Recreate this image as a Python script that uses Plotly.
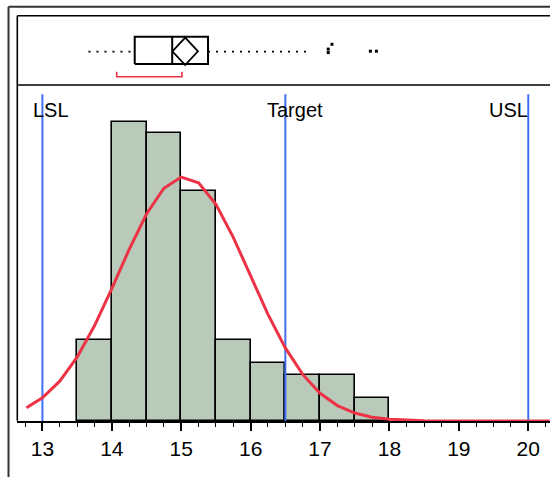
import plotly.graph_objects as go

# ---------------- data ----------------
bin_centers = [13.75, 14.25, 14.75, 15.25, 15.75, 16.25, 16.75, 17.25, 17.75]
bin_counts = [7, 26, 25, 20, 7, 5, 4, 4, 2]
bin_width = 0.5

curve_x = [12.77, 13.0, 13.25, 13.5, 13.75, 14.0, 14.25, 14.5, 14.75, 15.0,
           15.25, 15.5, 15.75, 16.0, 16.25, 16.5, 16.75, 17.0, 17.25, 17.5,
           17.75, 18.0, 18.25, 18.5, 18.75, 19.0, 19.5, 20.0, 20.31]
curve_y = [1.15, 2.01, 3.46, 5.54, 8.27, 11.51, 14.91, 17.99, 20.23, 21.20,
           20.70, 18.83, 15.96, 12.60, 9.27, 6.35, 4.05, 2.41, 1.34, 0.69,
           0.33, 0.15, 0.06, 0.02, 0.01, 0.0, 0.0, 0.0, 0.0]

spec_names = ["LSL", "Target", "USL"]
spec_values = [13.0, 16.5, 20.0]

# box plot summary
whisker_lo = 13.664
q1 = 14.33
median = 14.87
q3 = 15.386
whisker_hi = 16.858
mean = 15.057
mean_ci = [14.873, 15.241]
shortest_half = [14.07, 15.01]
outlier_x = [17.118, 17.118, 17.172, 17.725, 17.812]
outlier_y = [0.47, 0.52, 0.59, 0.49, 0.49]

tick_vals = [13, 14, 15, 16, 17, 18, 19, 20]
tick_text = ["13", "14", "15", "16", "17", "18", "19", "20"]

# ---------------- layout geometry ----------------
W, H = 550, 477
ML, MR, MT, MB = 17, 0, 16, 56
PW, PH = W - ML - MR, H - MT - MB
SEP_PX = 85
split = (H - MB - SEP_PX) / PH


def px(x):
    return (x - ML) / PW


def py(y):
    return (H - MB - y) / PH


FONT = "Liberation Sans, Arial, sans-serif"
BAR_COL = "#b9c9ba"
RED = "#ec3346"
BLUE = "#3f6ff5"

fig = go.Figure()

# histogram bars
fig.add_trace(go.Bar(
    x=bin_centers, y=bin_counts, width=bin_width,
    marker=dict(color=BAR_COL, line=dict(color="black", width=1.6)),
    xaxis="x", yaxis="y", showlegend=False, hoverinfo="x+y"))

# spec limit lines
for v in spec_values:
    fig.add_trace(go.Scatter(
        x=[v, v], y=[0, 28.4], mode="lines",
        line=dict(color=BLUE, width=2), xaxis="x", yaxis="y",
        showlegend=False, hoverinfo="skip"))

# normal curve
fig.add_trace(go.Scatter(
    x=curve_x, y=curve_y, mode="lines",
    line=dict(color=RED, width=3), xaxis="x", yaxis="y",
    showlegend=False, hoverinfo="skip"))

# ----- box plot panel (yaxis2) -----
BC = 0.502
BH = 0.198
# whiskers (dotted)
fig.add_trace(go.Scatter(
    x=[whisker_lo, q1], y=[0.483, 0.483], mode="lines",
    line=dict(color="black", width=1.6, dash="2px,6px"),
    xaxis="x", yaxis="y2", showlegend=False, hoverinfo="skip"))
fig.add_trace(go.Scatter(
    x=[q3, whisker_hi], y=[0.483, 0.483], mode="lines",
    line=dict(color="black", width=1.6, dash="2px,6px"),
    xaxis="x", yaxis="y2", showlegend=False, hoverinfo="skip"))
# box
fig.add_trace(go.Scatter(
    x=[q1, q3, q3, q1, q1],
    y=[BC - BH, BC - BH, BC + BH, BC + BH, BC - BH], mode="lines",
    line=dict(color="black", width=2), xaxis="x", yaxis="y2",
    showlegend=False, hoverinfo="skip"))
# median
fig.add_trace(go.Scatter(
    x=[median, median], y=[BC - BH, BC + BH], mode="lines",
    line=dict(color="black", width=2), xaxis="x", yaxis="y2",
    showlegend=False, hoverinfo="skip"))
# mean diamond
DC, DH = 0.488, 0.198
fig.add_trace(go.Scatter(
    x=[mean_ci[0], mean, mean_ci[1], mean, mean_ci[0]],
    y=[DC, DC + DH, DC, DC - DH, DC], mode="lines",
    line=dict(color="black", width=1.8), xaxis="x", yaxis="y2",
    showlegend=False, hoverinfo="skip"))
# shortest half bracket
fig.add_trace(go.Scatter(
    x=[shortest_half[0], shortest_half[0], shortest_half[1], shortest_half[1]],
    y=[0.193, 0.12, 0.12, 0.193], mode="lines",
    line=dict(color=RED, width=1.6), xaxis="x", yaxis="y2",
    showlegend=False, hoverinfo="skip"))
# outliers
fig.add_trace(go.Scatter(
    x=outlier_x, y=outlier_y, mode="markers",
    marker=dict(symbol="square", size=3, color="black"),
    xaxis="x", yaxis="y2", showlegend=False, hoverinfo="x"))

# spec labels
label_y = 27.0
annotations = [
    dict(x=12.855, y=label_y, text=spec_names[0], xanchor="left"),
    dict(x=16.225, y=label_y, text=spec_names[1], xanchor="left"),
    dict(x=20.015, y=label_y, text=spec_names[2], xanchor="right"),
]
for a in annotations:
    a.update(xref="x", yref="y", yanchor="middle", showarrow=False,
             borderpad=0, font=dict(family=FONT, size=20, color="black"))

# frame lines
shapes = [
    # outer frame
    dict(type="line", xref="paper", yref="paper", x0=px(8.5), x1=px(8.5),
         y0=py(6.7), y1=py(H + 2), line=dict(color="#333333", width=2)),
    dict(type="line", xref="paper", yref="paper", x0=px(8.5), x1=px(W + 5),
         y0=py(6.7), y1=py(6.7), line=dict(color="#333333", width=2)),
    # inner frame
    dict(type="line", xref="paper", yref="paper", x0=px(17.3), x1=px(17.3),
         y0=py(15.7), y1=py(420.7), line=dict(color="black", width=1.6)),
    dict(type="line", xref="paper", yref="paper", x0=px(17.3), x1=px(W + 5),
         y0=py(15.7), y1=py(15.7), line=dict(color="black", width=1.6)),
    # separator
    dict(type="line", xref="paper", yref="paper", x0=px(17.3), x1=px(W + 5),
         y0=split, y1=split, line=dict(color="black", width=1.6)),
]

fig.update_layout(
    width=W, height=H,
    margin=dict(l=ML, r=MR, t=MT, b=MB, pad=0),
    paper_bgcolor="white", plot_bgcolor="white",
    font=dict(family=FONT, color="black"),
    bargap=0, showlegend=False,
    annotations=annotations, shapes=shapes,
    xaxis=dict(
        range=[12.634, 20.313], domain=[0, 1], anchor="y",
        tickmode="array", tickvals=tick_vals, ticktext=tick_text,
        ticks="outside", ticklen=8, tickwidth=1.5, tickcolor="black",
        showline=True, linecolor="black", linewidth=1.6,
        showgrid=False, zeroline=False,
        tickfont=dict(family=FONT, size=21, color="black"),
        minor=dict(ticks="outside", ticklen=4, tickwidth=1.3,
                   tickcolor="black", dtick=0.25, tick0=13, showgrid=False),
    ),
    yaxis=dict(range=[0, 29.2], domain=[0, split], visible=False,
               showgrid=False, zeroline=False),
    yaxis2=dict(range=[0, 1], domain=[split, 1], visible=False,
                showgrid=False, zeroline=False),
)

fig.write_html("out.html")
